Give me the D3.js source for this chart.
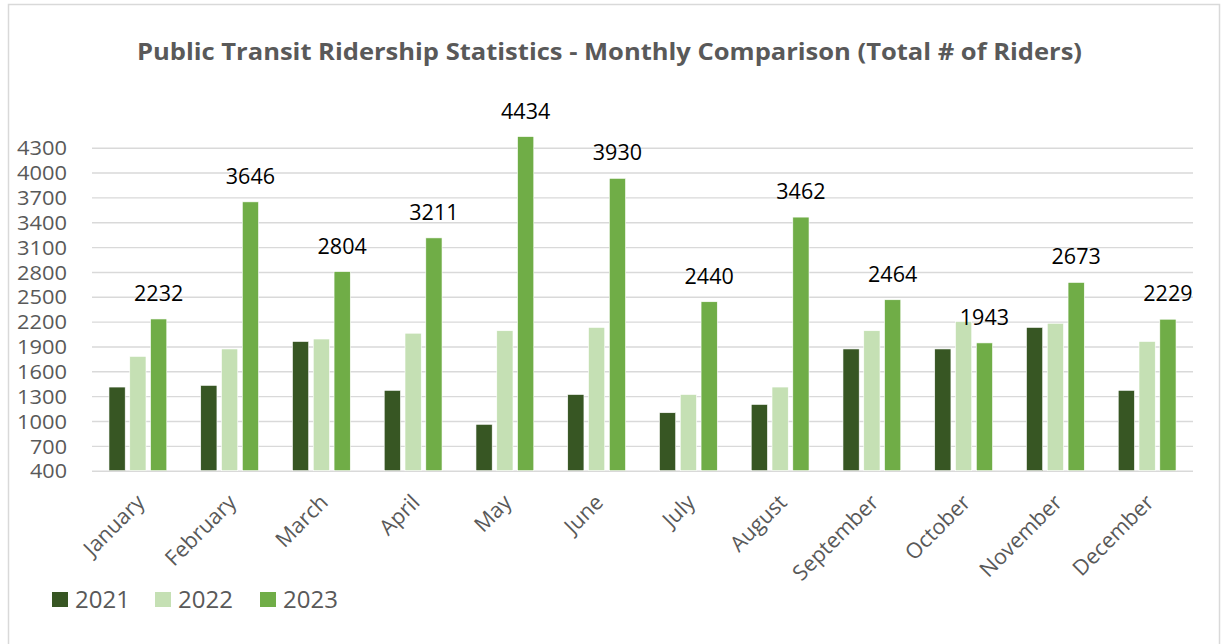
<!DOCTYPE html>
<html>
<head>
<meta charset="utf-8">
<script src="https://cdn.jsdelivr.net/npm/d3@7"></script>
<style>
  html, body { margin: 0; padding: 0; background: #fff; }
  svg { display: block; font-family: "Open Sans", sans-serif; }
</style>
</head>
<body>
<svg id="chart" width="1221" height="644"></svg>
<script>
const months = ["January","February","March","April","May","June","July","August","September","October","November","December"];
const years = ["2021","2022","2023"];
const riders2021 = [1410,1430,1960,1370,960,1320,1100,1200,1870,1870,2130,1370];
const riders2022 = [1780,1870,1990,2060,2090,2130,1320,1410,2090,2200,2180,1960];
const riders2023 = [2232,3646,2804,3211,4434,3930,2440,3462,2464,1943,2673,2229];
const yTicks = [400,700,1000,1300,1600,1900,2200,2500,2800,3100,3400,3700,4000,4300];
const colors = ["#375623","#C5E0B4","#70AD47"];
const titleText = "Public Transit Ridership Statistics - Monthly Comparison (Total # of Riders)";

const seriesValues = [riders2021, riders2022, riders2023];
const data = months.map((m, i) => ({ month: m, values: years.map((y, j) => ({ year: y, value: seriesValues[j][i] })) }));

const svg = d3.select("#chart");
const plotL = 92, plotR = 1193, plotT = 147.7, plotB = 470.7;

// chart border
svg.append("rect").attr("x", 8.5).attr("y", 4.5).attr("width", 1211).attr("height", 700)
  .attr("fill", "#fff").attr("stroke", "#d9d9d9").attr("stroke-width", 1.5);

const x0 = d3.scaleBand().domain(months).range([plotL, plotR]).paddingInner(0.37).paddingOuter(0.185);
const x1 = d3.scaleBand().domain(years).range([0, x0.bandwidth()]).paddingInner(0.22);
const y = d3.scaleLinear().domain([400, 4300]).range([plotB, plotT]);
const color = d3.scaleOrdinal().domain(years).range(colors);

// gridlines via axis
const grid = svg.append("g").attr("transform", `translate(${plotL},0)`)
  .call(d3.axisLeft(y).tickValues(yTicks).tickSize(-(plotR - plotL)).tickFormat(""));
grid.select(".domain").remove();
grid.selectAll("line").attr("stroke", "#d9d9d9").attr("stroke-width", 1.4);

// y tick labels
const yAxis = svg.append("g").attr("transform", `translate(67,0)`)
  .call(d3.axisLeft(y).tickValues(yTicks).tickSize(0).tickPadding(0).tickFormat(d3.format("d")));
yAxis.select(".domain").remove();
yAxis.selectAll("text").attr("fill", "#595959").style("font-size", "20px")
  .style("font-family", "'Open Sans', sans-serif").attr("dy", "0.36em")
  .attr("textLength", function() { return this.textContent.length === 4 ? 50 : 37; })
  .attr("lengthAdjust", "spacingAndGlyphs");

// bars
const groups = svg.append("g").selectAll("g").data(data).join("g")
  .attr("transform", d => `translate(${x0(d.month)},0)`);
groups.selectAll("rect").data(d => d.values).join("rect")
  .attr("x", d => x1(d.year))
  .attr("width", x1.bandwidth())
  .attr("y", d => y(d.value))
  .attr("height", d => y(400) - y(d.value))
  .attr("fill", d => color(d.year))
  .attr("stroke", "#fff").attr("stroke-width", 0.6);

// data labels for 2023
svg.append("g").selectAll("text").data(data).join("text")
  .attr("x", d => x0(d.month) + x1("2023") + x1.bandwidth() / 2)
  .attr("y", d => y(d.values[2].value) - 18)
  .attr("text-anchor", "middle")
  .attr("fill", "#000")
  .style("font-size", "21.5px")
  .text(d => d.values[2].value);

// x axis labels
const xAxis = svg.append("g").attr("transform", `translate(0,${plotB})`)
  .call(d3.axisBottom(x0).tickSize(0).tickPadding(0));
xAxis.select(".domain").remove();
xAxis.selectAll("text")
  .attr("fill", "#595959").style("font-size", "21.5px")
  .style("font-family", "'Open Sans', sans-serif")
  .attr("text-anchor", "end")
  .attr("y", 0).attr("dy", 0)
  .attr("transform", "translate(8,33) rotate(-45)");

// title
const title = svg.append("text")
  .attr("x", 609.5).attr("y", 59.5)
  .attr("text-anchor", "middle")
  .attr("fill", "#595959")
  .style("font-size", "24px").style("font-weight", "bold")
  .text(titleText);
title.attr("textLength", 945).attr("lengthAdjust", "spacingAndGlyphs");

// legend
const legendX = [52, 155, 260];
const legend = svg.append("g").selectAll("g").data(years).join("g")
  .attr("transform", (d, i) => `translate(${legendX[i]},592)`);
legend.append("rect").attr("width", 16).attr("height", 15).attr("fill", d => color(d));
legend.append("text").attr("x", 23).attr("y", 16)
  .attr("fill", "#595959").style("font-size", "24px").text(d => d);
</script>
</body>
</html>
